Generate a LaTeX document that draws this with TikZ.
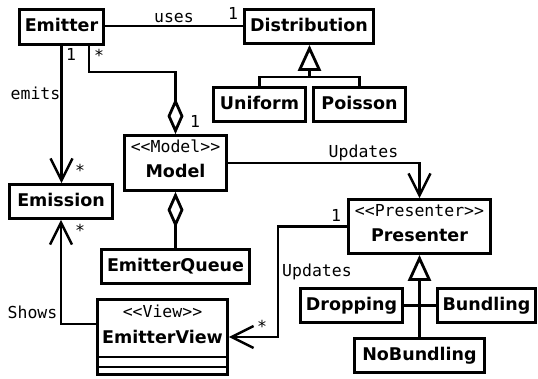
\documentclass[tikz,border=0pt]{standalone}
\usepackage{fontspec}
\setmainfont{DejaVu Sans}
\setmonofont{DejaVu Sans Mono}
\usetikzlibrary{arrows.meta,calc}
\tikzset{
  classbox/.style={draw, line width=2.8pt, inner sep=0pt, fill=white,
    font=\fontsize{17.5}{20}\selectfont\bfseries, text height=13pt, text depth=3.5pt},
  clsname/.style={font=\fontsize{17.5}{20}\selectfont\bfseries, inner sep=0pt, anchor=base},
  lbl/.style={font=\fontsize{16.5}{19}\selectfont\ttfamily, inner sep=0pt, anchor=base},
  conn/.style={line width=2.4pt},
  navarrow/.style={-{Straight Barb[length=22pt,width=22pt,line width=2.4pt]}},
  aggend/.style={-{Diamond[open,length=36pt,width=16pt,line width=2.8pt]}},
  aggstart/.style={{Diamond[open,length=36pt,width=16pt,line width=2.8pt]}-},
  genarrow/.style={-{Triangle[open,length=26pt,width=23pt,line width=2.8pt]}}
}
\begin{document}
\begin{tikzpicture}[x=1pt,y=-1pt]
\useasboundingbox (0,0) rectangle (538,379);
% boxes
\node[classbox, minimum width=84pt, minimum height=35pt] (emitter) at (61.5,27) {Emitter};
\node[classbox, minimum width=129pt, minimum height=34pt] (dist) at (309,26.5) {Distribution};
\node[classbox, minimum width=92pt, minimum height=34pt] (uniform) at (259.5,104.5) {Uniform};
\node[classbox, minimum width=92pt, minimum height=34pt] (poisson) at (359.5,104.5) {Poisson};
\node[classbox, minimum width=102pt, minimum height=55pt] (model) at (175.5,163) {};
\node[classbox, minimum width=103pt, minimum height=34pt] (emission) at (61,201.5) {Emission};
\node[classbox, minimum width=148pt, minimum height=34pt] (queue) at (175.5,266.5) {EmitterQueue};
\node[classbox, minimum width=130pt, minimum height=75pt] (view) at (162.5,337) {};
\node[classbox, minimum width=142pt, minimum height=54pt] (pres) at (419.5,226.5) {};
\node[classbox, minimum width=102pt, minimum height=34pt] (drop) at (351.5,305.5) {Dropping};
\node[classbox, minimum width=98pt, minimum height=34pt] (bund) at (486.5,305.5) {Bundling};
\node[classbox, minimum width=130pt, minimum height=34pt] (nob) at (419.5,355.5) {NoBundling};
% texts inside multi-line boxes
\node[lbl] (modelst) at (175.5,153) {<<Model>>};
\node[clsname] (modelnm) at (175.5,178) {Model};
\node[lbl] (presst) at (419.5,217) {<<Presenter>>};
\node[clsname] (presnm) at (419.5,241.6) {Presenter};
\node[lbl] (viewst) at (162.5,317) {<<View>>};
\node[clsname] (viewnm) at (162.5,343) {EmitterView};
\draw[line width=2.8pt] ($(view.south west)+(0,-19)$) -- ($(view.south east)+(0,-19)$);
\draw[line width=2.8pt] ($(view.south west)+(0,-9)$) -- ($(view.south east)+(0,-9)$);
% connectors
\draw[conn] (emitter.east |- 0,26) -- (dist.west |- 0,26);
\node[lbl] (uses) at (174,23) {uses};
\node[lbl] (m1) at (233,20) {1};

\coordinate (gj) at (309.5,77);
\draw[conn] (uniform.north) |- (gj) -| (poisson.north);
\draw[conn, genarrow] (gj) -- (gj |- dist.south);

\draw[conn, navarrow] (emitter.south) -- (emitter.south |- emission.north);
\node[lbl] (m2) at (71,61) {1};
\node[lbl] (emits) at (35.5,100) {emits};
\node[lbl] (m3) at (80,176.6) {*};

\draw[conn, aggend] ($(emitter.south)+(27.5,0)$) -- ++(0,26) -| (model.north);
\node[lbl] (m4) at (99,61.5) {*};
\node[lbl] (m5) at (195,128) {1};

\draw[conn, aggstart] (model.south) -- (queue.north);

\draw[conn, navarrow] (model.east) -| (pres.north);
\node[lbl] (upd1) at (363.5,158) {Updates};

\draw[conn, navarrow] (pres.west) -- ++(-69,0) |- (view.east);
\node[lbl] (m6) at (336,222) {1};
\node[lbl] (m7) at (262,332.6) {*};
\node[lbl, anchor=base west] (upd2) at (282,277) {Updates};

\draw[conn, navarrow] ($(view.west)+(0,-13)$) -| (emission.south);
\node[lbl] (shows) at (32.5,318) {Shows};
\node[lbl] (m8) at (80,236.6) {*};

\draw[conn, genarrow] (nob.north) -- (pres.south);
\draw[conn] (drop.east) -- (bund.west);
\end{tikzpicture}
\end{document}
